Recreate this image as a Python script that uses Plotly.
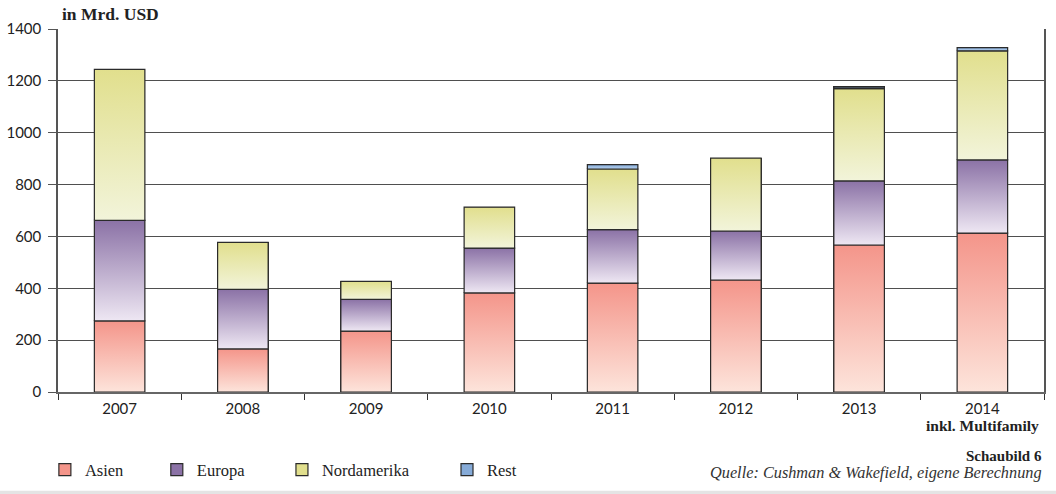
import plotly.graph_objects as go

# Transaktionsvolumen nach Regionen, in Mrd. USD
years = ["2007", "2008", "2009", "2010", "2011", "2012", "2013", "2014"]
asien = [274, 166, 235, 382, 420, 432, 567, 613]
europa = [388, 230, 122, 173, 206, 189, 247, 282]
nordamerika = [582, 181, 70, 158, 234, 281, 356, 421]
rest = [0, 0, 0, 0, 17, 0, 6, 12]

series = [
    ("Asien", asien, "#fde4db", "#f4958a"),
    ("Europa", europa, "#eee7f3", "#8b72a6"),
    ("Nordamerika", nordamerika, "#f2f4da", "#e1df8d"),
    ("Rest", rest, "#b6d1ee", "#86abd8"),
]

BAR_W = 0.41
OUTLINE = "#2b2b2b"
SERIF = "Liberation Serif"
SANS = "Lato"
TEXT = "#222222"

fig = go.Figure()
xs = list(range(len(years)))

# one legend per series so each entry sits at its own position
legend_ids = ["legend", "legend2", "legend3", "legend4"]
legend_x = [0.0425, 0.1485, 0.267, 0.4233]

# stacked bars (solid base, also used for the legend entries)
for (name, vals, c_lo, c_hi), lid in zip(series, legend_ids):
    fig.add_trace(go.Bar(
        x=xs, y=vals, name=name, width=BAR_W, legend=lid,
        marker=dict(color=c_hi, line=dict(color=OUTLINE, width=1.2)),
        hoverinfo="skip",
    ))

# vertical gradient fill for every segment, drawn over the bars
base = [0] * len(years)
for name, vals, c_lo, c_hi in series:
    for i, v in enumerate(vals):
        if v <= 0:
            continue
        b, t = base[i], base[i] + v
        x0, x1 = xs[i] - BAR_W / 2, xs[i] + BAR_W / 2
        fig.add_trace(go.Scatter(
            x=[x0, x1, x1, x0, x0], y=[b, b, t, t, b],
            mode="lines", fill="toself",
            fillgradient=dict(type="vertical",
                              colorscale=[[0, c_lo], [1, c_hi]]),
            line=dict(color=OUTLINE, width=1.2),
            showlegend=False, hoverinfo="skip",
        ))
        base[i] = t

legend_style = dict(
    orientation="h", xref="container", yref="container",
    y=0.0486, yanchor="middle", xanchor="left",
    font=dict(family=SERIF, size=16.5, color=TEXT),
    bgcolor="rgba(0,0,0,0)",
)
legends = {lid: dict(x=lx, **legend_style) for lid, lx in zip(legend_ids, legend_x)}

fig.update_layout(
    barmode="stack",
    width=1056, height=494,
    margin=dict(l=58, r=12, t=29, b=102, autoexpand=False),
    plot_bgcolor="white", paper_bgcolor="white",
    xaxis=dict(
        range=[-0.5, len(years) - 0.5],
        tickmode="array", tickvals=xs, ticktext=years,
        ticks="", showgrid=False, zeroline=False, automargin=False,
        showline=True, linecolor="#666666", linewidth=1.5,
        tickfont=dict(family=SANS, size=15, color=TEXT),
        ticklabelstandoff=2,
        minor=dict(tickmode="linear", tick0=0.5, dtick=1, ticks="outside",
                   ticklen=6, tickcolor="#333333", tickwidth=1, showgrid=False),
    ),
    yaxis=dict(
        range=[0, 1400], tickmode="linear", tick0=0, dtick=200,
        ticks="outside", ticklen=8, tickcolor="#555555", tickwidth=1.2,
        showgrid=True, gridcolor="#4f4f4f", gridwidth=1.3,
        zeroline=False, showline=True, mirror=True, automargin=False,
        linecolor="#555555", linewidth=1.5,
        tickfont=dict(family=SANS, size=15, color=TEXT),
        ticklabelstandoff=4,
    ),
    showlegend=True,
    **legends,
)

fig.add_annotation(
    text="<b>in Mrd. USD</b>", xref="paper", yref="paper",
    x=0.002, y=1.0, xanchor="left", yanchor="bottom", yshift=3,
    showarrow=False, font=dict(family=SERIF, size=17.5, color=TEXT),
)
fig.add_annotation(
    text="<b>inkl. Multifamily</b>", xref="x", yref="paper",
    x=7, y=0, xanchor="center", yanchor="top", yshift=-23,
    showarrow=False, font=dict(family=SERIF, size=15.5, color=TEXT),
)
fig.add_annotation(
    text="<b>Schaubild 6</b>", xref="paper", yref="paper",
    x=1.0, y=-0.176, xanchor="right", yanchor="middle",
    showarrow=False, font=dict(family=SERIF, size=15, color=TEXT),
)
fig.add_annotation(
    text="<i>Quelle: Cushman &amp; Wakefield, eigene Berechnung</i>",
    xref="paper", yref="paper",
    x=1.0, y=-0.221, xanchor="right", yanchor="middle",
    showarrow=False, font=dict(family=SERIF, size=16.3, color="#333333"),
)
# light grey band along the bottom edge
fig.add_shape(
    type="rect", xref="paper", yref="paper",
    x0=-0.1, x1=1.1, y0=-0.3, y1=-0.272,
    line=dict(width=0), fillcolor="#e4e4e4", layer="below",
)

fig.write_html("out.html")
